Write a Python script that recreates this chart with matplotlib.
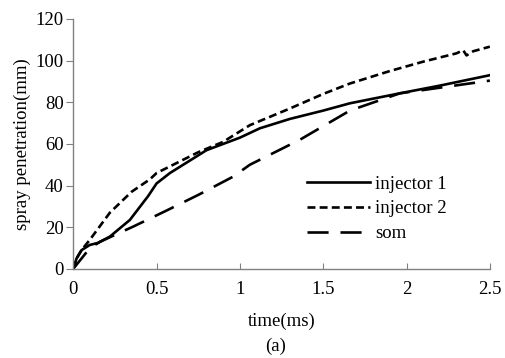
import numpy as np
import matplotlib
matplotlib.use('Agg')
import matplotlib.pyplot as plt

plt.rcParams['font.family'] = ['Liberation Serif', 'DejaVu Serif']

# injector 1 (solid)
t1 = [0, 0.02, 0.05, 0.1, 0.15, 0.22, 0.34, 0.45, 0.5, 0.58, 0.7, 0.8, 1.0, 1.12, 1.3, 1.5, 1.66, 1.96, 2.2, 2.5]
inj1 = [0, 5, 9, 11.5, 12.5, 15.5, 23.5, 35, 41, 46, 52, 57, 63, 67.5, 72, 76, 79.5, 84.3, 88, 93]

# injector 2 (short dashes)
t2 = [0, 0.02, 0.05, 0.1, 0.22, 0.35, 0.46, 0.5, 0.6, 0.75, 0.9, 1.06, 1.3, 1.5, 1.66, 1.9, 2.1, 2.3, 2.34, 2.36, 2.4, 2.5]
inj2 = [0, 5, 9, 14, 27, 37, 43, 46, 50, 56, 61, 69, 77, 84, 89, 95, 99.5, 103.5, 105, 102.5, 104.5, 106.7]

# som (long dashes)
t3 = [0, 0.04, 0.1, 0.16, 0.36, 0.56, 0.75, 0.96, 1.06, 1.36, 1.66, 1.96, 2.2, 2.5]
som = [0, 4, 10, 13, 20.3, 28, 35.5, 44.3, 50, 62, 76, 84.3, 87, 90.4]

fig = plt.figure(figsize=(5.05, 3.58), dpi=100)
ax = fig.add_axes([0.145, 0.249, 0.825, 0.698])

ax.plot(t1, inj1, color='black', lw=1.9, label='injector 1')
ax.plot(t2, inj2, color='black', lw=1.9, dashes=(3, 1.6), label='injector 2')
ax.plot(t3, som, color='black', lw=1.9, dashes=(8, 4.5), label='som')

ax.set_xlim(0, 2.5)
ax.set_ylim(0, 120)
ax.set_xticks([0, 0.5, 1, 1.5, 2, 2.5])
ax.set_xticklabels(['0', '0.5', '1', '1.5', '2', '2.5'])
ax.set_yticks(range(0, 121, 20))

for s in ['top', 'right']:
    ax.spines[s].set_visible(False)
for s in ['left', 'bottom']:
    ax.spines[s].set_color('#808080')
    ax.spines[s].set_linewidth(1)

ax.tick_params(axis='x', direction='in', length=4, color='#808080', labelsize=13.5, pad=9)
ax.tick_params(axis='y', direction='out', length=5, color='#808080', labelsize=13.5, pad=2)

ax.set_xlabel('time(ms)', fontsize=13.5, labelpad=10)
ax.set_ylabel('spray penetration(mm)', fontsize=13.5, labelpad=3)
fig.text(0.545, 0.02, '(a)', ha='center', fontsize=13.5)

ax.legend(loc='center left', bbox_to_anchor=(0.52, 0.24), frameon=False, fontsize=13.5,
          handlelength=3.4, handletextpad=0.25, labelspacing=0.4)

fig.savefig('out.png', dpi=100)
